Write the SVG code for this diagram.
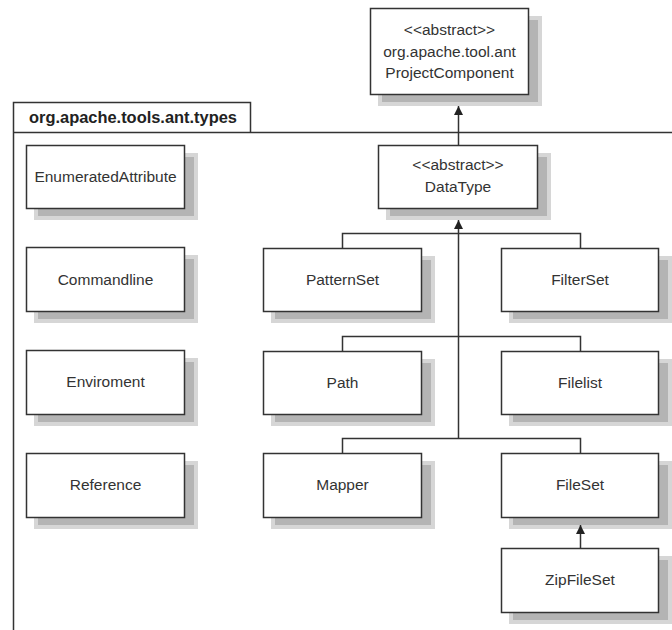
<svg xmlns="http://www.w3.org/2000/svg" width="672" height="630" viewBox="0 0 672 630">
<style>
.box{fill:#fff;stroke:#333;stroke-width:1.5}
.sh{fill:#b4b4b4;stroke:#d6d6d6;stroke-width:4}
.lbl{font-family:"Liberation Sans",Arial,sans-serif;font-size:15.5px;fill:#333;text-anchor:middle}
.ln{fill:none;stroke:#333;stroke-width:1.5}
.frame{fill:none;stroke:#333;stroke-width:1.5}
.pkg{font-family:"Liberation Sans",Arial,sans-serif;font-size:16px;font-weight:bold;fill:#222}
</style>
<defs>
<marker id="arr" viewBox="0 0 10 10" refX="10" refY="5" markerWidth="9" markerHeight="9" markerUnits="userSpaceOnUse" orient="auto"><path d="M0,0 L10,5 L0,10 z" fill="#222"/></marker>
</defs>
<rect width="672" height="630" fill="#fff"/>
<g id="package">
<path class="frame" d="M13.5,630 V102.5 H250.5 V132.5 M13.5,132.5 H672"/>
<text class="pkg" x="29" y="123" textLength="208" lengthAdjust="spacingAndGlyphs">org.apache.tools.ant.types</text>
</g>
<g id="ProjectComponent">
<rect class="sh" x="380" y="18" width="160" height="86"/>
<rect class="box" x="370.5" y="8.5" width="158" height="86"/>
<text class="lbl" x="449.5" y="35">&lt;&lt;abstract&gt;&gt;</text>
<text class="lbl" x="449.5" y="57">org.apache.tool.ant</text>
<text class="lbl" x="449.5" y="78">ProjectComponent</text>
</g>
<g id="DataType">
<rect class="sh" x="388" y="155" width="161" height="63"/>
<rect class="box" x="378.5" y="145.5" width="159" height="63"/>
<text class="lbl" x="458" y="170">&lt;&lt;abstract&gt;&gt;</text>
<text class="lbl" x="458" y="192">DataType</text>
</g>
<g id="EnumeratedAttribute">
<rect class="sh" x="36" y="155" width="160" height="63"/>
<rect class="box" x="26.5" y="145.5" width="158" height="63"/>
<text class="lbl" x="105.5" y="182">EnumeratedAttribute</text>
</g>
<g id="Commandline">
<rect class="sh" x="36" y="257" width="160" height="64"/>
<rect class="box" x="26.5" y="247.5" width="158" height="64"/>
<text class="lbl" x="105.5" y="285">Commandline</text>
</g>
<g id="Enviroment">
<rect class="sh" x="36" y="360" width="160" height="64"/>
<rect class="box" x="26.5" y="350.5" width="158" height="64"/>
<text class="lbl" x="105.5" y="387">Enviroment</text>
</g>
<g id="Reference">
<rect class="sh" x="36" y="463" width="160" height="64"/>
<rect class="box" x="26.5" y="453.5" width="158" height="64"/>
<text class="lbl" x="105.5" y="490">Reference</text>
</g>
<g id="PatternSet">
<rect class="sh" x="273" y="258" width="160" height="63"/>
<rect class="box" x="263.5" y="248.5" width="158" height="63"/>
<text class="lbl" x="342.5" y="285">PatternSet</text>
</g>
<g id="FilterSet">
<rect class="sh" x="511" y="258" width="159" height="63"/>
<rect class="box" x="501.5" y="248.5" width="157" height="63"/>
<text class="lbl" x="580" y="285">FilterSet</text>
</g>
<g id="Path">
<rect class="sh" x="273" y="361" width="160" height="63"/>
<rect class="box" x="263.5" y="351.5" width="158" height="63"/>
<text class="lbl" x="342.5" y="388">Path</text>
</g>
<g id="Filelist">
<rect class="sh" x="511" y="361" width="159" height="63"/>
<rect class="box" x="501.5" y="351.5" width="157" height="63"/>
<text class="lbl" x="580" y="388">Filelist</text>
</g>
<g id="Mapper">
<rect class="sh" x="273" y="463" width="160" height="64"/>
<rect class="box" x="263.5" y="453.5" width="158" height="64"/>
<text class="lbl" x="342.5" y="490">Mapper</text>
</g>
<g id="FileSet">
<rect class="sh" x="511" y="463" width="159" height="64"/>
<rect class="box" x="501.5" y="453.5" width="157" height="64"/>
<text class="lbl" x="580" y="490">FileSet</text>
</g>
<g id="ZipFileSet">
<rect class="sh" x="511" y="558" width="159" height="64"/>
<rect class="box" x="501.5" y="548.5" width="157" height="64"/>
<text class="lbl" x="580" y="585">ZipFileSet</text>
</g>
<g id="connectors">
<line class="ln" x1="458.5" y1="145" x2="458.5" y2="106" marker-end="url(#arr)"/>
<line class="ln" x1="458.5" y1="438.5" x2="458.5" y2="220" marker-end="url(#arr)"/>
<path class="ln" d="M342.5,248 V233.5 H580.5 V248"/>
<path class="ln" d="M342.5,351 V336.5 H580.5 V351"/>
<path class="ln" d="M342.5,453 V438.5 H580.5 V453"/>
<line class="ln" x1="580.5" y1="548" x2="580.5" y2="525" marker-end="url(#arr)"/>
</g>
</svg>
